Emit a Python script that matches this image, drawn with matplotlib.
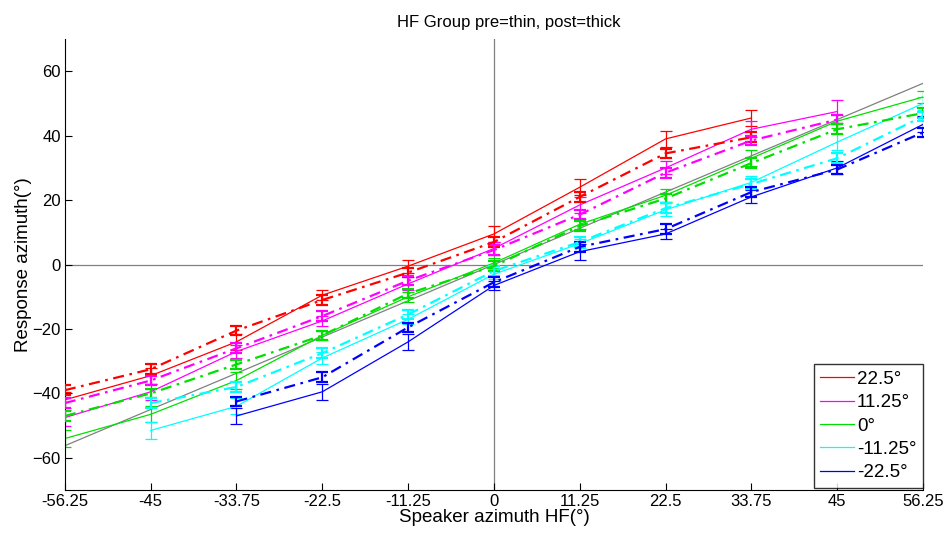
import numpy as np
import matplotlib
matplotlib.use("Agg")
import matplotlib.pyplot as plt

plt.rcParams['font.family'] = ['Liberation Sans', 'DejaVu Sans']

nan = np.nan
speaker = [-56.25, -45, -33.75, -22.5, -11.25, 0, 11.25, 22.5, 33.75, 45, 56.25]
xtick_labels = ['-56.25', '-45', '-33.75', '-22.5', '-11.25', '0', '11.25', '22.5', '33.75', '45', '56.25']
labels = ['22.5°', '11.25°', '0°', '-11.25°', '-22.5°']
colors = ['#ff0000', '#ff00ff', '#00e000', '#00ffff', '#0000ff']

# pre = thin solid lines
pre = [
    [-42, -34.5, -24, -9.5, -0.5, 9.5, 24, 39, 45.5, nan, nan],
    [-47.5, -39.5, -27, -17.5, -6, 5, 18.5, 30, 42, 47.5, nan],
    [-54, -46.5, -36, -22, -10, 0.5, 12.5, 21.5, 33, 44.5, 52],
    [nan, -51.5, -44, -29, -17, -3, 6.5, 17, 25.5, 38, 50],
    [nan, nan, -47, -39.5, -24, -6.5, 4, 9.5, 21, 30, 43.5],
]
pre_err = [
    [2.5, 2.5, 2.5, 1.5, 2, 2.5, 2.5, 2.5, 2.5, nan, nan],
    [2.5, 2.5, 2, 1.5, 2, 2, 2.5, 2, 2.5, 3.5, nan],
    [2.5, 2.5, 2.5, 1.5, 1.5, 1.5, 1.5, 2, 2.5, 2, 2],
    [nan, 2.5, 2.5, 2, 1.5, 1.5, 1.5, 2, 2, 2.5, 2],
    [nan, nan, 2.5, 2.5, 2.5, 1.5, 2.5, 1.5, 2, 2, 2.5],
]
# post = thick dash-dot lines
post = [
    [-39, -32.5, -20.5, -11, -2.5, 7, 21, 34.5, 39.5, nan, nan],
    [-43, -36, -26, -16, -5, 4.5, 15.5, 28.5, 38.5, 45, nan],
    [-47, -40, -31, -22, -9, -0.5, 12, 20.5, 31.5, 42, 47],
    [nan, -43, -38, -27.5, -15.5, -2, 7, 17.5, 25, 33, 46],
    [nan, nan, -42.5, -35, -19.5, -5.5, 5.5, 11, 22.5, 29.5, 41],
]
post_err = [
    [1.5, 1.5, 1.5, 1.5, 1.5, 1.5, 1.5, 1.5, 1.5, nan, nan],
    [1.5, 1.5, 1.5, 1.5, 1.5, 1.5, 1.5, 1.5, 1.5, 1.5, nan],
    [1.5, 1.5, 1.5, 1.5, 1.5, 1.5, 1.5, 1.5, 1.5, 1.5, 1.5],
    [nan, 1.5, 1.5, 1.5, 1.5, 1.5, 1.5, 1.5, 1.5, 1.5, 1.5],
    [nan, nan, 1.5, 1.5, 1.5, 1.5, 1.5, 1.5, 1.5, 1.5, 1.5],
]

fig = plt.figure(figsize=(9.53, 5.35), dpi=100)
ax = fig.add_axes([0.068, 0.084, 0.9005, 0.843])

ax.axhline(0, color='#808080', lw=0.9, zorder=1)
ax.axvline(0, color='#808080', lw=0.9, zorder=1)
ax.plot([speaker[0], speaker[-1]], [speaker[0], speaker[-1]], color='#808080', lw=0.9, zorder=1)

handles = []
for i in range(5):
    h = ax.errorbar(speaker, pre[i], yerr=pre_err[i], color=colors[i], lw=0.9,
                    elinewidth=0.9, capsize=4.5, capthick=0.9, label=labels[i], zorder=2)
    handles.append(h.lines[0])
    ax.errorbar(speaker, post[i], yerr=post_err[i], color=colors[i], lw=1.6,
                ls=(0, (5, 2.5, 1.2, 2.5)), elinewidth=1.6, capsize=4.5, capthick=1.6, zorder=3)

ax.set_xlim(-56.25, 56.25)
ax.set_ylim(-70, 70)
ax.set_xticks(speaker)
ax.set_xticklabels(xtick_labels)
ax.set_yticks([-60, -40, -20, 0, 20, 40, 60])
ax.tick_params(direction='in', length=5, labelsize=12, pad=3)
for s in ['top', 'right']:
    ax.spines[s].set_visible(False)

ax.set_title('HF Group pre=thin, post=thick', fontsize=12, pad=9, x=0.517)
ax.set_xlabel('Speaker azimuth HF(°)', fontsize=13.5, labelpad=0)
ax.set_ylabel('Response azimuth(°)', fontsize=13.5, labelpad=0)

leg = ax.legend(handles=handles, labels=labels, loc='lower right', bbox_to_anchor=(1.0, 0.005),
                fontsize=13.5, frameon=True, fancybox=False, handlelength=1.8, handletextpad=0.15,
                labelspacing=0.33, borderpad=0.35, borderaxespad=0)
leg.get_frame().set_edgecolor('black')
leg.get_frame().set_linewidth(1.0)

fig.savefig('out.png', dpi=100)
